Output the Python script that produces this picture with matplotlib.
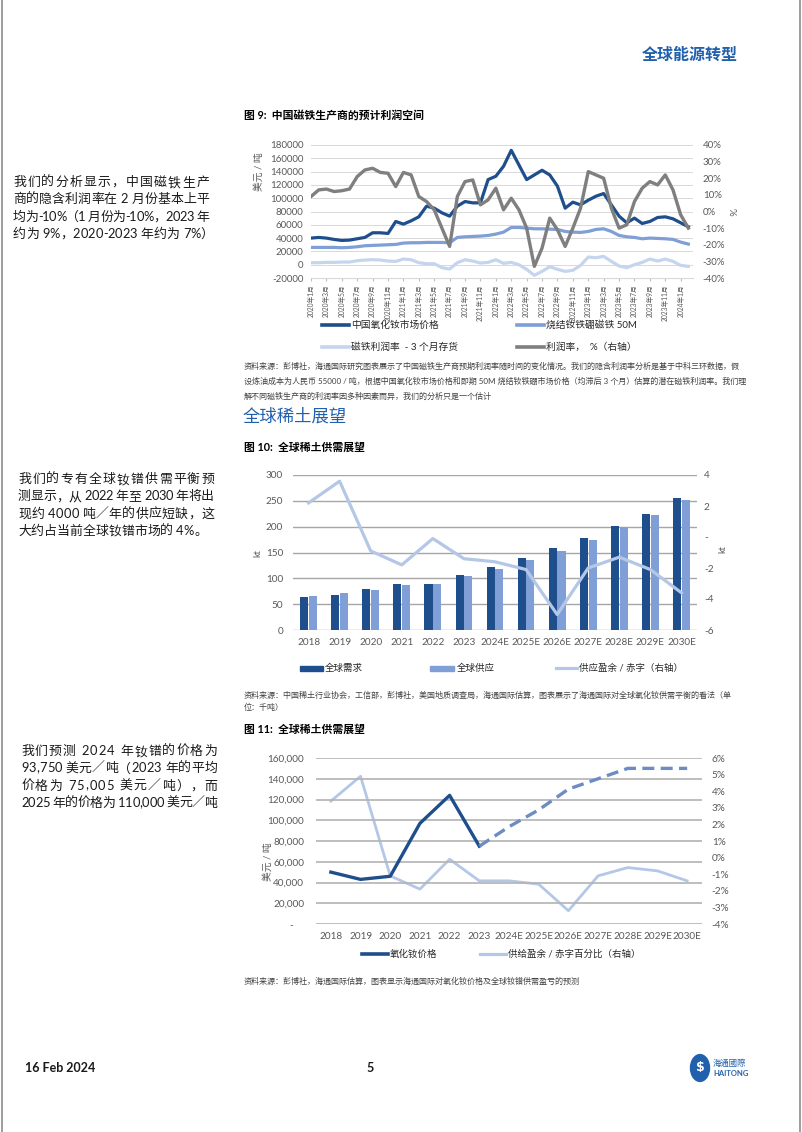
import numpy as np
import matplotlib
matplotlib.use('Agg')
import matplotlib.pyplot as plt
from matplotlib import font_manager
from matplotlib.ft2font import FT2Font
from matplotlib.lines import Line2D
from matplotlib.patches import Rectangle, Circle
from matplotlib.ticker import FuncFormatter, MultipleLocator

plt.rcParams['font.family'] = ['Lato', 'Noto Sans CJK SC', 'DejaVu Sans']
plt.rcParams['axes.unicode_minus'] = False

# ---------------- data ----------------
# fig 9: monthly, Jan 2020 .. Feb 2024
month_labels = [f'{2020 + i // 12}年{i % 12 + 1}月' for i in range(0, 50, 2)]
ndpr_price = [40000, 41000, 40000, 38000, 36500, 37000, 39000, 41000, 48000, 48000,
              47000, 65000, 61000, 66000, 72000, 88000, 85000, 78000, 73000, 88000,
              95000, 93000, 93000, 128000, 133000, 148000, 172000, 150000, 128000, 135000,
              142000, 135000, 118000, 85000, 94000, 90000, 97000, 103000, 107000, 90000,
              73000, 63000, 70000, 62000, 65000, 71000, 72000, 69000, 63000, 57000]
magnet_50m = [26000, 26000, 26000, 26000, 25500, 26000, 27000, 28500, 29000, 29500,
              30000, 30500, 32500, 33000, 33000, 33500, 33500, 33500, 33000, 41000,
              42000, 42500, 43000, 44000, 46000, 49000, 56000, 56000, 55000, 54000,
              54000, 53500, 53000, 50000, 49000, 48500, 50000, 53000, 54000, 50000,
              44000, 42000, 41000, 39000, 40000, 39500, 39000, 38000, 34000, 31000]
margin_3m = [3000, 3000, 3500, 3500, 4000, 4000, 6000, 7000, 7500, 7000,
             5500, 5000, 8500, 7500, 3000, 1500, 1500, -4500, -6500, 3000,
             7500, 5500, 2500, 3500, 7500, 2000, 3500, 0, -7000, -16000,
             -10000, -3000, -7000, -10000, -8500, -1000, 11500, 10500, 12500, 5000,
             -2000, -4500, 0, 3500, 8500, 5500, 8500, 5000, -1000, -2500]
margin_pct = [9, 13, 13.5, 12, 12.5, 13.5, 21, 25, 26, 23.5,
              23, 15, 23.5, 22, 9, 6, 1, -10, -21, 9,
              18, 19, 4, 7, 14, 1, 8, 1, -10, -33,
              -22, -4, -11, -21, -10, 2, 24, 22, 20, 2,
              -10, -8, 6, 14, 18, 16, 22, 13, -2, -10]

# fig 10 / fig 11
years = ['2018', '2019', '2020', '2021', '2022', '2023', '2024E', '2025E',
         '2026E', '2027E', '2028E', '2029E', '2030E']
demand_kt = [63, 68, 79, 89, 89, 107, 121, 139, 158, 179, 202, 225, 255]
supply_kt = [66, 72, 77, 87, 89, 105, 118, 136, 152, 175, 200, 223, 251]
balance_kt = [2.2, 3.6, -0.9, -1.8, -0.1, -1.4, -1.6, -2.1, -5.0, -2.0, -1.3, -2.1, -3.6]

oxide_price = [50000, 43000, 46000, 97000, 124000, 75005, 93750, 110000,
               130000, 140000, 150000, 150000, 150000]
balance_pct = [3.4, 4.9, -1.1, -1.9, -0.1, -1.4, -1.4, -1.6, -3.2, -1.1, -0.6, -0.8, -1.4]

DARK = '#1f4e8c'
MID = '#7f9fd6'
LIGHT = '#c5d5ee'
GRAY = '#7f7f7f'
LINE2 = '#b4c7e7'
DASH = '#6d8cc4'
HEAD = '#2160ad'
TICK = '#595959'

W, H = 802, 1132
fig = plt.figure(figsize=(W / 100, H / 100), dpi=100)


def px_axes(l, t, r, b):
    return fig.add_axes([l / W, 1 - b / H, (r - l) / W, (b - t) / H])


def ftext(x, y, s, **kw):
    kw.setdefault('va', 'center')
    fig.text(x / W, 1 - y / H, s, **kw)


def fline(x0, x1, y, **kw):
    fig.add_artist(Line2D([x0 / W, x1 / W], [1 - y / H, 1 - y / H], **kw))


# advances for justified body text
try:
    _fonts = [FT2Font(font_manager.findfont(f, fallback_to_default=False))
              for f in ['Lato', 'Noto Sans CJK SC']]
except Exception:
    _fonts = []


def advance(ch, size):
    if ch == ' ':
        return size * 100 / 72 * 0.26
    for f in _fonts:
        if f.get_char_index(ord(ch)):
            f.set_size(size, 100)
            g = f.load_char(ord(ch))
            return g.linearHoriAdvance / 65536
    return size * 100 / 72 * (1.0 if ord(ch) > 0x2000 else 0.55)


def body_line(x0, y, s, width, size, justify, **kw):
    if not _fonts:
        ftext(x0, y, s, fontsize=size, **kw)
        return
    adv = [advance(c, size) for c in s]
    extra = (width - sum(adv)) / (len(s) - 1) if justify else 0.0
    x = x0
    for c, a in zip(s, adv):
        if c != ' ':
            ftext(x, y, c, fontsize=size, **kw)
        x += a + extra


# page frame
fig.add_artist(Line2D([1.5 / W, 1.5 / W], [0, 1], color='#8c8c8c', lw=1.2))
fig.add_artist(Line2D([800 / W, 800 / W], [0, 1], color='#8c8c8c', lw=1.2))

ftext(642, 55, '全球能源转型', fontsize=11.5, fontweight='bold', color=HEAD)

# left column paragraphs
para1 = ['我们的分析显示，中国磁铁生产',
         '商的隐含利润率在 2 月份基本上平',
         '均为-10%（1 月份为-10%，2023 年',
         '约为 9%，2020-2023 年约为 7%）']
para2 = ['我们的专有全球钕镨供需平衡预',
         '测显示，从 2022 年至 2030 年将出',
         '现约 4000 吨／年的供应短缺，这',
         '大约占当前全球钕镨市场的 4%。']
para3 = ['我们预测 2024 年钕镨的价格为',
         '93,750 美元／吨（2023 年的平均',
         '价格为 75,005 美元／吨），而',
         '2025 年的价格为 110,000 美元／吨']
for lines, x0, y0, last_full in [(para1, 13, 182, False), (para2, 18, 479, False),
                                 (para3, 21, 751, True)]:
    for i, s in enumerate(lines):
        full = i < len(lines) - 1 or last_full
        body_line(x0, y0 + i * 17.3, s, 196, 9.3, full, color='#1a1a1a')

# ---------------- fig 9 ----------------
ftext(244, 115, '图 9:  中国磁铁生产商的预计利润空间', fontsize=7.8, fontweight='bold')
ax1 = px_axes(311, 145, 693, 278)
xm = np.arange(len(ndpr_price))
l_a, = ax1.plot(xm, ndpr_price, color=DARK, lw=2.3)
l_b, = ax1.plot(xm, magnet_50m, color=MID, lw=2.3)
l_c, = ax1.plot(xm, margin_3m, color=LIGHT, lw=2.3)
ax1.set_xlim(0, 49.6)
ax1.set_ylim(-20000, 180000)
ax1.yaxis.set_major_locator(MultipleLocator(20000))
ax1.set_xticks(range(0, 50, 2))
ax1.set_xticklabels(month_labels, rotation=90, fontsize=4.8, color=TICK)
ax1.tick_params(axis='y', length=0, labelsize=7, labelcolor=TICK, pad=5.5)
ax1.tick_params(axis='x', length=2, color='#bfbfbf', pad=2.5)
ax1.grid(axis='y', color='#d9d9d9', lw=0.7)
ax1.set_axisbelow(True)
for sp in ['top', 'left', 'right']:
    ax1.spines[sp].set_visible(False)
ax1.spines['bottom'].set_color('#d9d9d9')
ax1r = ax1.twinx()
l_d, = ax1r.plot(xm, margin_pct, color=GRAY, lw=2.4)
ax1r.set_ylim(-40, 40)
ax1r.yaxis.set_major_locator(MultipleLocator(10))
ax1r.yaxis.set_major_formatter(FuncFormatter(lambda v, p: f'{v:.0f}%'))
ax1r.tick_params(axis='y', length=0, labelsize=7, labelcolor=TICK, pad=7)
for sp in ax1r.spines.values():
    sp.set_visible(False)
ftext(259, 172, '美元 / 吨', fontsize=7, rotation=90, ha='center', color=TICK)
ftext(731, 212, '%', fontsize=7, rotation=270, ha='center', color=TICK)

leg1 = [(l_a, '中国氧化钕市场价格', 322, 325), (l_b, '烧结钕铁硼磁铁 50M', 517, 325),
        (l_c, '磁铁利润率  - 3 个月存货', 322, 347), (l_d, '利润率，  %（右轴）', 517, 347)]
for ln, s, x0, y0 in leg1:
    fline(x0, x0 + 27, y0, color=ln.get_color(), lw=2.6)
    ftext(x0 + 29, y0, s, fontsize=7, color='#262626')

src1 = ['资料来源：彭博社，海通国际研究图表展示了中国磁铁生产商预期利润率随时间的变化情况。我们的隐含利润率分析是基于中科三环数据，假',
        '设炼油成本为人民币 55000 / 吨，根据中国氧化钕市场价格和即期 50M 烧结钕铁硼市场价格（均滞后 3 个月）估算的潜在磁铁利润率。我们理',
        '解不同磁铁生产商的利润率因多种因素而异，我们的分析只是一个估计']
for i, s in enumerate(src1):
    ftext(244, 366 + i * 15, s, fontsize=5.8, color='#404040')

ftext(243, 417, '全球稀土展望', fontsize=12.5, color=HEAD, family='Noto Sans CJK SC')

# ---------------- fig 10 ----------------
ftext(244, 447, '图 10:  全球稀土供需展望', fontsize=7.8, fontweight='bold')
ax2 = px_axes(293, 475, 697, 630)
xi = np.arange(len(years))
ax2.bar(xi - 0.14, demand_kt, width=0.26, color=DARK, zorder=3)
ax2.bar(xi + 0.14, supply_kt, width=0.26, color=MID, zorder=3)
ax2.set_xlim(-0.5, len(years) - 0.5)
ax2.set_ylim(0, 300)
ax2.yaxis.set_major_locator(MultipleLocator(50))
ax2.set_xticks(xi)
ax2.set_xticklabels(years)
ax2.tick_params(axis='both', length=0, labelsize=7.2, labelcolor=TICK)
ax2.tick_params(axis='y', pad=7)
ax2.tick_params(axis='x', pad=5.5)
ax2.grid(axis='y', color='#a6a6a6', lw=1.0, zorder=0)
for sp in ax2.spines.values():
    sp.set_visible(False)
ax2r = ax2.twinx()
ax2r.plot(xi, balance_kt, color=LINE2, lw=2.3, zorder=4)
ax2r.set_ylim(-6, 4)
ax2r.yaxis.set_major_locator(MultipleLocator(2))
ax2r.yaxis.set_major_formatter(FuncFormatter(lambda v, p: '-' if abs(v) < 1e-9 else f'{v:.0f}'))
ax2r.tick_params(axis='y', length=0, labelsize=7.2, labelcolor=TICK, pad=5)
for sp in ax2r.spines.values():
    sp.set_visible(False)
ftext(258, 553, 'kt', fontsize=6.5, rotation=90, ha='center', color=TICK)
ftext(723, 549, 'kt', fontsize=6.5, rotation=90, ha='center', color=TICK)

fig.add_artist(Rectangle((300 / W, 1 - 670.5 / H), 23 / W, 5 / H, color=DARK))
ftext(325, 668, '全球需求', fontsize=6.8, color='#262626')
fig.add_artist(Rectangle((430 / W, 1 - 670.5 / H), 24 / W, 5 / H, color=MID))
ftext(457, 668, '全球供应', fontsize=6.8, color='#262626')
fline(556, 577, 668, color=LINE2, lw=2.3)
ftext(579, 668, '供应盈余 / 赤字（右轴）', fontsize=6.8, color='#262626')

ftext(244, 695, '资料来源：中国稀土行业协会，工信部，彭博社，美国地质调查局，海通国际估算，图表展示了海通国际对全球氧化钕供需平衡的看法（单',
      fontsize=5.8, color='#404040')
ftext(244, 707, '位：千吨）', fontsize=5.8, color='#404040')

# ---------------- fig 11 ----------------
ftext(244, 729, '图 11:  全球稀土供需展望', fontsize=7.8, fontweight='bold')
ax3 = px_axes(316, 758, 702, 924)
ax3.plot(xi[:6], oxide_price[:6], color=DARK, lw=2.4, zorder=4)
ax3.plot(xi[5:], oxide_price[5:], color=DASH, lw=2.4, ls=(0, (3.6, 1.9)), zorder=4)
ax3.set_xlim(-0.5, len(years) - 0.5)
ax3.set_ylim(0, 160000)
ax3.yaxis.set_major_locator(MultipleLocator(20000))
ax3.yaxis.set_major_formatter(FuncFormatter(lambda v, p: '-    ' if v == 0 else f'{int(v):,}'))
ax3.set_xticks(xi)
ax3.set_xticklabels(years)
ax3.tick_params(axis='both', length=0, labelsize=7.2, labelcolor=TICK)
ax3.tick_params(axis='y', pad=8.5)
ax3.tick_params(axis='x', pad=5.5)
ax3.grid(axis='y', color='#b3b3b3', lw=1.2, zorder=0)
for sp in ax3.spines.values():
    sp.set_visible(False)
ax3r = ax3.twinx()
ax3r.plot(xi, balance_pct, color=LINE2, lw=2.0, zorder=3)
ax3r.set_ylim(-4, 6)
ax3r.yaxis.set_major_locator(MultipleLocator(1))
ax3r.yaxis.set_major_formatter(FuncFormatter(lambda v, p: f'{v:.0f}%'))
ax3r.tick_params(axis='y', length=0, labelsize=7.2, labelcolor=TICK, pad=7)
for sp in ax3r.spines.values():
    sp.set_visible(False)
ax3.set_zorder(ax3r.get_zorder() + 1)
ax3.patch.set_visible(False)
ftext(268, 862, '美元 / 吨', fontsize=7, rotation=90, ha='center', color=TICK)

fline(362, 388, 954, color=DARK, lw=2.6)
ftext(390, 954, '氧化钕价格', fontsize=6.8, color='#262626')
fline(480, 506, 954, color=LINE2, lw=2.3)
ftext(508, 954, '供给盈余 / 赤字百分比（右轴）', fontsize=6.8, color='#262626')

ftext(244, 981, '资料来源：彭博社，海通国际估算，图表显示海通国际对氧化钕价格及全球钕镨供需盈亏的预测',
      fontsize=5.8, color='#404040')

# ---------------- footer ----------------
ftext(25, 1068, '16 Feb 2024', fontsize=9, fontweight='bold', color='#1a1a1a')
ftext(366, 1068, '5', fontsize=9, fontweight='bold', color='#1a1a1a')
fig.add_artist(Circle((700 / W, 1 - 1068 / H), 9.5 / W, color=HEAD,
                      transform=fig.transFigure))
ftext(700, 1068, '$', fontsize=9, fontweight='bold', color='white', ha='center',
      family='DejaVu Sans')
ftext(713, 1062.5, '海通國際', fontsize=6, color=HEAD)
ftext(713, 1073, 'HAITONG', fontsize=5.5, fontweight='bold', color=HEAD)

fig.savefig('out.png', dpi=100)
